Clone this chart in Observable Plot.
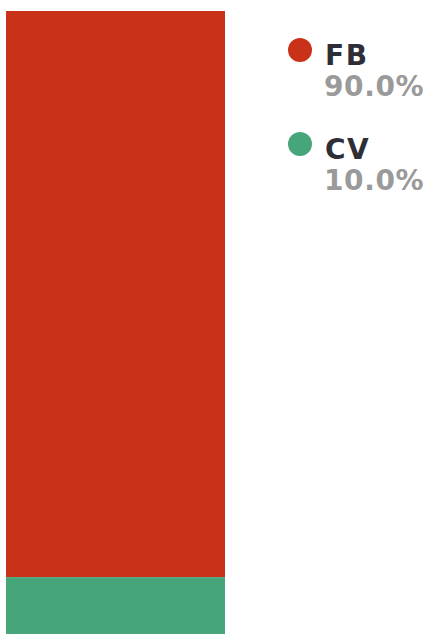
<!DOCTYPE html>
<html>
<head>
<meta charset="utf-8">
<script src="https://cdn.jsdelivr.net/npm/d3@7"></script>
<script src="https://cdn.jsdelivr.net/npm/@observablehq/plot@0.6"></script>
<style>
  html, body { margin: 0; padding: 0; background: #fff; overflow: hidden; width: 429px; height: 634px; }
  #wrap { position: relative; width: 429px; height: 634px; }
  #chart { position: absolute; left: 0; top: 0; }
  .item { position: absolute; left: 288px; font-family: "DejaVu Sans", sans-serif; font-weight: 700; }
  .dot { position: absolute; left: 0; width: 24px; height: 24px; border-radius: 50%; }
  .name { position: absolute; left: 37px; font-size: 28px; line-height: 24px; color: #2e2f36; white-space: nowrap; letter-spacing: 1.5px; }
  .pct { position: absolute; left: 36px; font-size: 28px; line-height: 24px; color: #9a9a9a; white-space: nowrap; letter-spacing: 0.6px; }
</style>
</head>
<body>
<div id="wrap"><div id="chart"></div><div id="legend"></div></div>
<script>
const categories = ["FB", "CV"];
const values = [90.0, 10.0];
const colors = ["#C93218", "#46A679"];

const data = categories.map((c, i) => ({group: "all", category: c, value: values[i]}));

const chart = Plot.plot({
  width: 231,
  height: 640,
  marginTop: 11,
  marginBottom: 0,
  marginLeft: 6,
  marginRight: 6,
  x: {axis: null, padding: 0},
  y: {axis: null, domain: [0, d3.sum(values)], reverse: true},
  color: {domain: categories, range: colors},
  marks: [
    Plot.barY(data, Plot.stackY({x: "group", y: "value", fill: "category", order: categories}))
  ]
});
document.getElementById("chart").appendChild(chart);

const legend = document.getElementById("legend");
categories.forEach((c, i) => {
  const item = document.createElement("div");
  item.className = "item";
  item.style.top = (38 + i * 93.5) + "px";
  item.innerHTML = `<div class="dot" style="background:${colors[i]};top:0px"></div>
    <div class="name" style="top:6px">${c}</div>
    <div class="pct" style="top:37px">${d3.format(".1f")(values[i])}%</div>`;
  legend.appendChild(item);
});
</script>
</body>
</html>
